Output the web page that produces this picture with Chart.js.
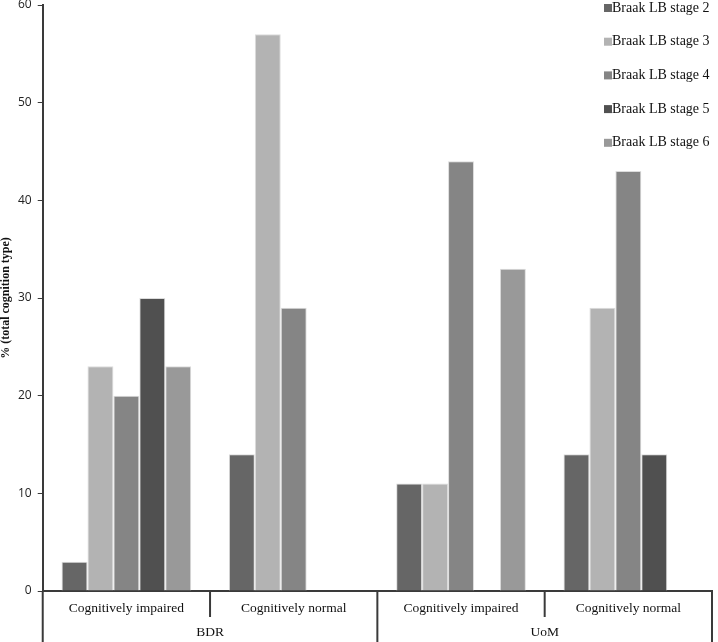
<!DOCTYPE html>
<html>
<head>
<meta charset="utf-8">
<script src="https://cdn.jsdelivr.net/npm/chart.js@4"></script>
<style>
  html, body { margin: 0; padding: 0; background: #fff; }
</style>
</head>
<body>
<canvas id="chartBraak" width="718" height="642"></canvas>
<script>
var categories = ['Cognitively impaired', 'Cognitively normal', 'Cognitively impaired', 'Cognitively normal'];
var groups = ['BDR', 'UoM'];
var seriesNames = ['Braak LB stage 2', 'Braak LB stage 3', 'Braak LB stage 4', 'Braak LB stage 5', 'Braak LB stage 6'];
var stage2 = [3, 14, 11, 14];
var stage3 = [23, 57, 11, 29];
var stage4 = [20, 29, 44, 43];
var stage5 = [30, null, null, 14];
var stage6 = [23, null, 33, null];
var yTicks = [0, 10, 20, 30, 40, 50, 60];

var colors = ['#666666', '#b3b3b3', '#858585', '#505050', '#999999'];
var values = [stage2, stage3, stage4, stage5, stage6];

// divider lines and group row under the axis, legend in the corner
var extras = {
    id: 'extras',
    afterDraw: function(chart) {
        var ctx = chart.ctx;
        var x = chart.scales.x;
        var top = chart.chartArea.bottom;
        var half = (x.getPixelForValue(1) - x.getPixelForValue(0)) / 2;
        function edge(i) {
            return i < 4 ? x.getPixelForValue(i) - half : x.getPixelForValue(3) + half;
        }
        ctx.save();
        ctx.strokeStyle = '#3a3a3a';
        ctx.lineWidth = 2;
        [0, 1, 2, 3, 4].forEach(function(i) {
            var px = edge(i);
            ctx.beginPath();
            ctx.moveTo(px, top);
            ctx.lineTo(px, i % 2 === 0 ? 642 : top + 26);
            ctx.stroke();
        });
        ctx.fillStyle = '#111';
        ctx.font = '13.5px "Liberation Serif"';
        ctx.textAlign = 'center';
        ctx.textBaseline = 'middle';
        groups.forEach(function(g, i) {
            var mid = (x.getPixelForValue(i * 2) + x.getPixelForValue(i * 2 + 1)) / 2;
            ctx.fillText(g, mid, 632);
        });

        ctx.textAlign = 'left';
        ctx.font = '14px "Liberation Serif"';
        chart.data.datasets.forEach(function(ds, i) {
            var y = 8 + i * 33.7;
            ctx.fillStyle = ds.backgroundColor;
            ctx.fillRect(604, y - 4, 8, 8);
            ctx.fillStyle = '#111';
            ctx.fillText(ds.label, 612, y);
        });
        ctx.restore();
    }
};

var ctx = document.getElementById('chartBraak').getContext('2d');
new Chart(ctx, {
    type: 'bar',
    data: {
        labels: categories,
        datasets: seriesNames.map(function(name, i) {
            return {
                label: name,
                data: values[i],
                backgroundColor: colors[i],
                borderColor: '#dcdcdc',
                borderWidth: 1,
                categoryPercentage: 0.775,
                barPercentage: 1.0
            };
        })
    },
    options: {
        responsive: false,
        animation: false,
        layout: { padding: { top: 5, right: 6, bottom: 25, left: 0 } },
        plugins: {
            legend: { display: false },
            tooltip: { enabled: false }
        },
        scales: {
            x: {
                grid: { display: false },
                border: { color: '#3a3a3a', width: 2 },
                afterFit: function(axis) {
                    axis.height = 26;
                    axis.paddingLeft = 0;
                    axis.paddingRight = 0;
                },
                ticks: {
                    padding: 1,
                    color: '#111',
                    font: { family: 'Liberation Serif', size: 13.5 },
                    maxRotation: 0,
                    autoSkip: false
                }
            },
            y: {
                min: 0,
                max: 60,
                afterBuildTicks: function(axis) {
                    axis.ticks = yTicks.map(function(v) { return { value: v }; });
                },
                afterFit: function(axis) {
                    axis.paddingTop = 0;
                    axis.paddingBottom = 0;
                },
                grid: { drawOnChartArea: false, tickLength: 5, color: '#3a3a3a', lineWidth: 1 },
                border: { color: '#3a3a3a', width: 2 },
                ticks: {
                    padding: 6,
                    color: '#222',
                    font: { family: 'Open Sans', size: 12 }
                },
                title: {
                    display: true,
                    text: '% (total cognition type)',
                    color: '#111',
                    padding: { top: 0, bottom: 0 },
                    font: { family: 'Liberation Serif', size: 12, weight: 'bold', lineHeight: 1 }
                }
            }
        }
    },
    plugins: [extras]
});
</script>
</body>
</html>
